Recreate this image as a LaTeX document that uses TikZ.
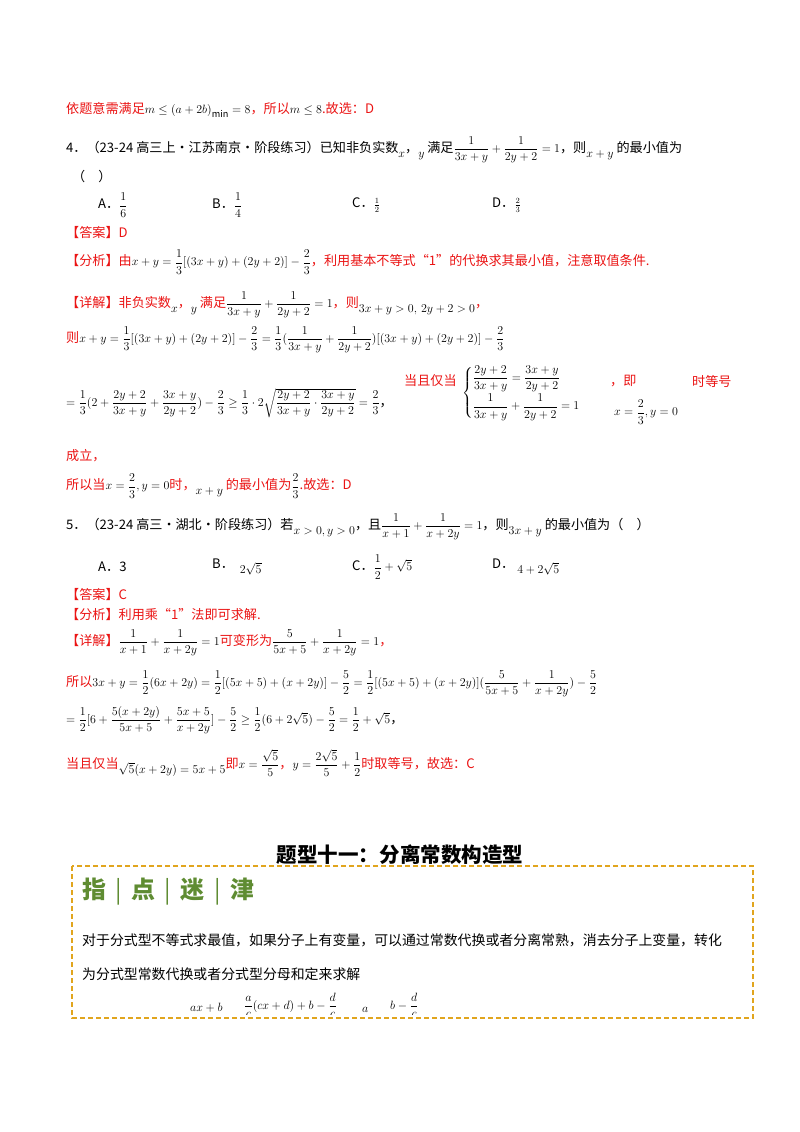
\documentclass[tikz,border=0pt]{standalone}
\usepackage{amsmath}
\usepackage{fontspec}
\setmainfont[Scale=1.14]{Noto Sans CJK SC}
\usetikzlibrary{calc}
\definecolor{rd}{RGB}{235,20,20}
\definecolor{og}{RGB}{225,165,30}
\definecolor{gr}{RGB}{95,140,50}
\newcommand\lo[1]{\raisebox{-5pt}{$#1$}}
\begin{document}
\begin{tikzpicture}[x=1pt,y=-1pt,
  t/.style={anchor=west,inner sep=0pt,font=\fontsize{11.5}{13}\selectfont},
  r/.style={t,text=rd}]
\useasboundingbox (0,0) rectangle (800,1132);
\fill[white] (0,0) rectangle (800,1132);
\node[r] (l1) at (66,110) {依题意需满足\textcolor{black}{$m\le\left(a+2b\right)_{\min}=8$}，所以\textcolor{black}{$m\le8$}.故选：D};
\node[t] (q4) at (66,150) {4．（23-24 高三上·江苏南京·阶段练习）已知非负实数\lo{x}，\lo{y} 满足$\dfrac{1}{3x+y}+\dfrac{1}{2y+2}=1$，则\lo{x+y} 的最小值为};
\node[t] (q4b) at (72,177) {（\quad）};
\node[t] (a4) at (98,205) {A．$\dfrac16$};
\node[t] (b4) at (212,205) {B．$\dfrac14$};
\node[t] (c4) at (352,205) {C．{\large$\frac12$}};
\node[t] (d4) at (492,205) {D．{\large$\frac23$}};
\node[r] (ans4) at (66,233) {【答案】D};
\node[r] (fx4) at (66,262) {【分析】由\textcolor{black}{$x+y=\dfrac13[(3x+y)+(2y+2)]-\dfrac23$}，利用基本不等式“1”的代换求其最小值，注意取值条件.};
\node[r] (xj4) at (66,305) {【详解】非负实数\textcolor{black}{\lo{x}}，\textcolor{black}{\lo{y}} 满足\textcolor{black}{$\dfrac{1}{3x+y}+\dfrac{1}{2y+2}=1$}，则\textcolor{black}{\lo{3x+y>0,\,2y+2>0}}，};
\node[r] (z4) at (66,340) {则\textcolor{black}{$x+y=\dfrac13[(3x+y)+(2y+2)]-\dfrac23=\dfrac13(\dfrac{1}{3x+y}+\dfrac{1}{2y+2})[(3x+y)+(2y+2)]-\dfrac23$}};
\node[t] (big) at (66,403) {$=\dfrac13(2+\dfrac{2y+2}{3x+y}+\dfrac{3x+y}{2y+2})-\dfrac23\ge\dfrac13\cdot2\sqrt{\dfrac{2y+2}{3x+y}\cdot\dfrac{3x+y}{2y+2}}=\dfrac23$，};
\node[r] (dq) at (404,381) {当且仅当};
\node[t] (sys) at (462,393) {$\begin{cases}\dfrac{2y+2}{3x+y}=\dfrac{3x+y}{2y+2}\\[8pt]\dfrac{1}{3x+y}+\dfrac{1}{2y+2}=1\end{cases}$};
\node[r] (ji) at (610,381) {，即};
\node[t] (sol) at (614,412) {$x=\dfrac23,y=0$};
\node[r] (sdh) at (692,381) {时等号};
\node[r] (cl) at (66,456) {成立，};
\node[r] (sy4) at (66,486) {所以当\textcolor{black}{$x=\dfrac23,y=0$}时，\textcolor{black}{\lo{x+y}} 的最小值为\textcolor{black}{$\dfrac23$}.故选：D};
\node[t] (q5) at (66,527) {5．（23-24 高三·湖北·阶段练习）若\lo{x>0,y>0}，且$\dfrac{1}{x+1}+\dfrac{1}{x+2y}=1$，则\lo{3x+y} 的最小值为（\quad）};
\node[t] (a5) at (98,567) {A．3};
\node[t] (b5) at (212,567) {B．\ \ \lo{2\sqrt5}};
\node[t] (c5) at (352,567) {C．$\dfrac12+\sqrt5$};
\node[t] (d5) at (492,567) {D．\ \lo{4+2\sqrt5}};
\node[r] (ans5) at (66,595) {【答案】C};
\node[r] (fx5) at (66,615) {【分析】利用乘“1”法即可求解.};
\node[r] (xj5) at (66,643) {【详解】\textcolor{black}{$\dfrac{1}{x+1}+\dfrac{1}{x+2y}=1$}可变形为\textcolor{black}{$\dfrac{5}{5x+5}+\dfrac{1}{x+2y}=1$}，};
\node[r] (sy5) at (66,684) {所以\textcolor{black}{$3x+y=\dfrac12(6x+2y)=\dfrac12[(5x+5)+(x+2y)]-\dfrac52=\dfrac12[(5x+5)+(x+2y)](\dfrac{5}{5x+5}+\dfrac{1}{x+2y})-\dfrac52$}};
\node[t] (eq5) at (66,720) {$=\dfrac12[6+\dfrac{5(x+2y)}{5x+5}+\dfrac{5x+5}{x+2y}]-\dfrac52\ge\dfrac12(6+2\sqrt5)-\dfrac52=\dfrac12+\sqrt5$，};
\node[r] (dq5) at (66,763) {当且仅当\textcolor{black}{\lo{\sqrt5(x+2y)=5x+5}}即\textcolor{black}{$x=\dfrac{\sqrt5}{5}$}，\textcolor{black}{$y=\dfrac{2\sqrt5}{5}+\dfrac12$}时取等号，故选：C};
\node[font=\fontsize{18}{20}\selectfont\bfseries] (hd) at (400,855) {题型十一：分离常数构造型};
\draw[og,line width=1.3pt,dash pattern=on 5pt off 3pt] (72,866) rectangle (753,1018);
\node[t,text=gr,font=\fontsize{21}{24}\selectfont\bfseries] (zd) at (82,892) {指\ \,{\mdseries|}\ \,点\ \,{\mdseries|}\ \,迷\ \,{\mdseries|}\ \,津};
\node[t,font=\fontsize{12.2}{14}\selectfont] (p1) at (82,940) {对于分式型不等式求最值，如果分子上有变量，可以通过常数代换或者分离常熟，消去分子上变量，转化};
\node[t,font=\fontsize{12.2}{14}\selectfont] (p2) at (82,974) {为分式型常数代换或者分式型分母和定来求解};
\begin{scope}
\clip (74,980) rectangle (751,1014);
\node[t,font=\fontsize{12}{14}\selectfont] (f1) at (190,1008) {$ax+b$};
\node[t,font=\fontsize{12}{14}\selectfont] (f2) at (244,1005) {$\dfrac{a}{c}(cx+d)+b-\dfrac{d}{c}$};
\node[t,font=\fontsize{12}{14}\selectfont] (f3) at (362,1010) {$a$};
\node[t,font=\fontsize{12}{14}\selectfont] (f4) at (390,1005) {$b-\dfrac{d}{c}$};
\end{scope}
\end{tikzpicture}
\end{document}
